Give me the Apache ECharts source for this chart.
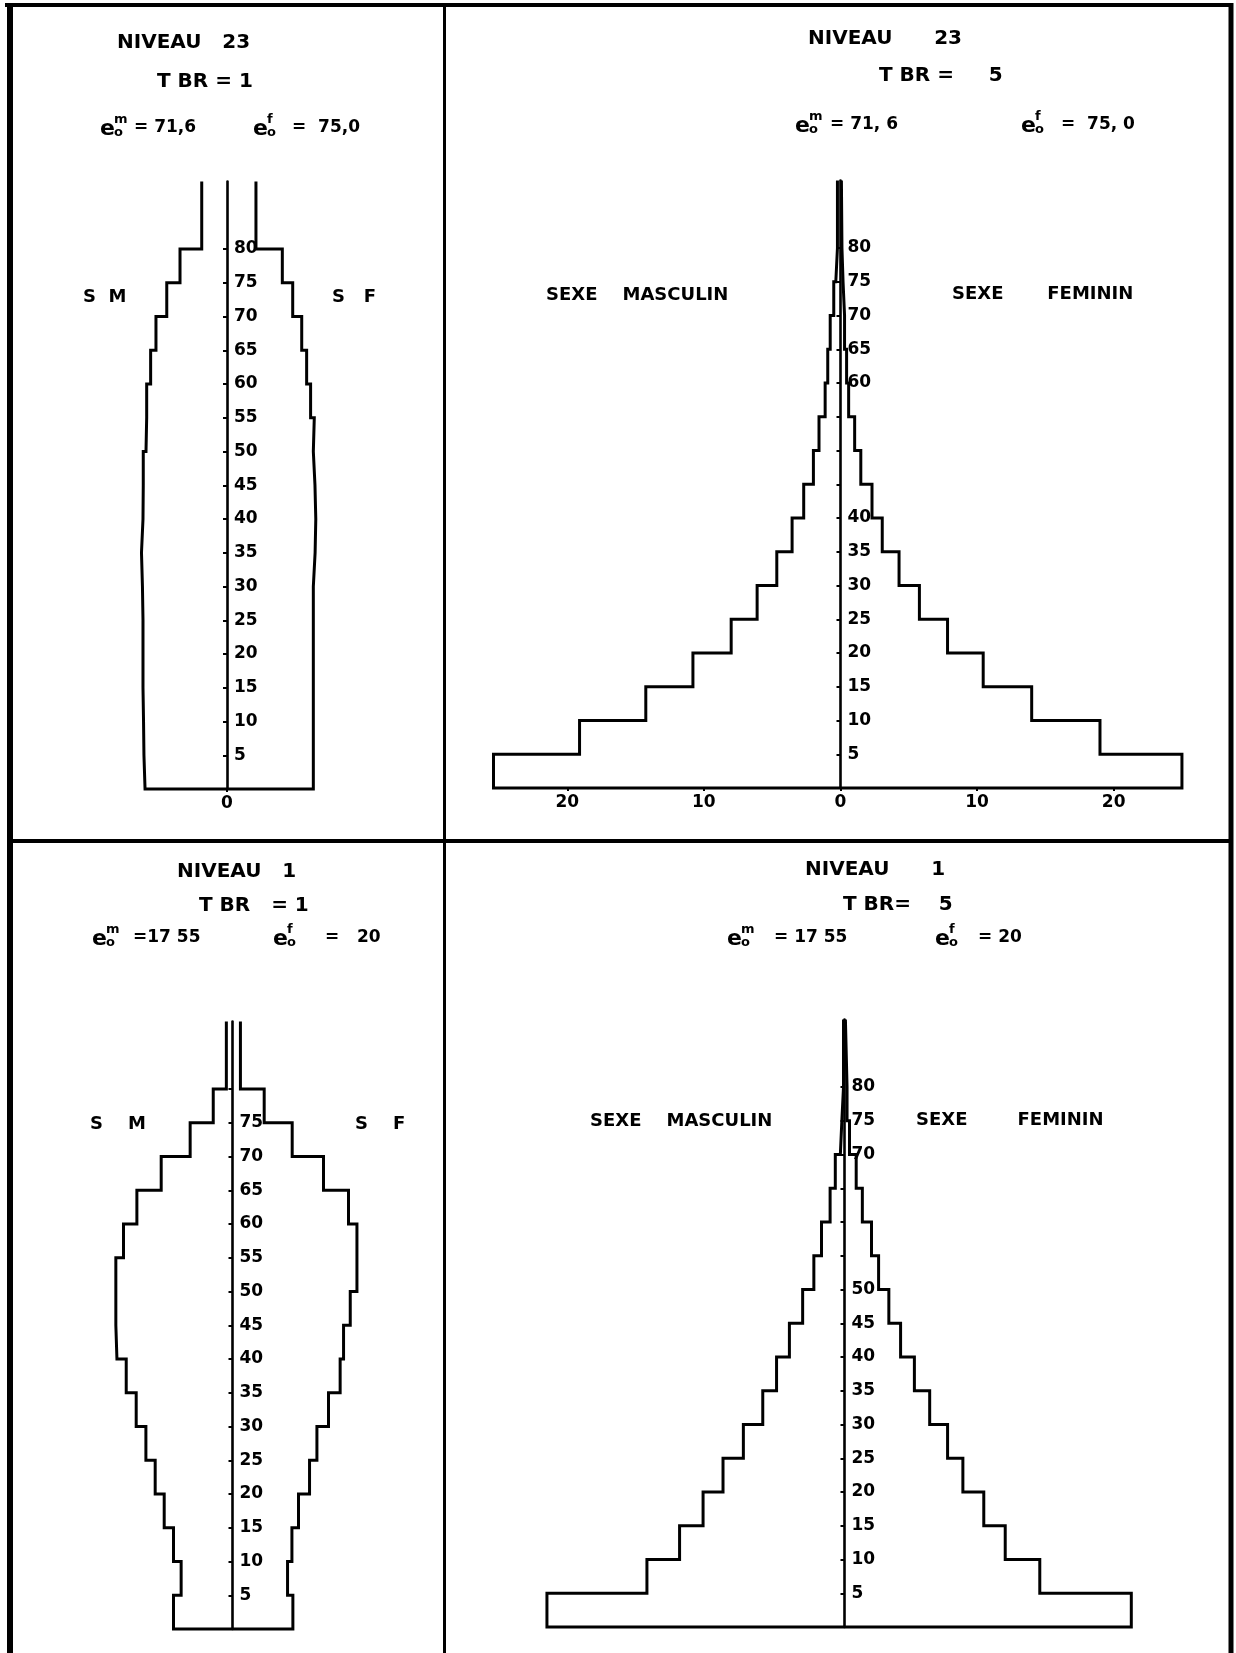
<!DOCTYPE html>
<html>
<head>
<meta charset="utf-8">
<script src="https://cdn.jsdelivr.net/npm/echarts@6/dist/echarts.min.js"></script>
<style>
html,body{margin:0;padding:0;background:#fff;}
#c{width:1236px;height:1653px;}
</style>
</head>
<body>
<div id="c"></div>
<script>
// ---- DATA ----
const ageStarts = [0,5,10,15,20,25,30,35,40,45,50,55,60,65,70,75,80];
const openAgeEnd = 90;

// Niveau 23, TBR = 1 (percent per 5-year group)
const tlMale   = [6.00,6.08,6.11,6.15,6.15,6.15,6.19,6.26,6.15,6.13,5.93,5.88,5.59,5.20,4.41,3.44,1.85];
const tlFemale = [6.32,6.32,6.32,6.32,6.32,6.32,6.45,6.50,6.44,6.32,6.39,6.12,5.83,5.47,4.81,4.05,2.12];
// Niveau 23, TBR = 5
const trMale   = [25.4,19.1,14.25,10.8,8.0,6.1,4.66,3.54,2.69,1.98,1.57,1.12,0.93,0.75,0.49,0.34,0.22];
const trFemale = [25.0,19.0,14.0,10.45,7.84,5.78,4.29,3.06,2.31,1.49,1.04,0.60,0.45,0.30,0.19,0.11,0.07];
// Niveau 1, TBR = 1
const blMale   = [4.32,3.76,4.32,5.00,5.66,6.34,7.05,7.78,8.46,8.54,8.54,7.98,7.00,5.22,3.10,1.41,0.45];
const blFemale = [4.42,4.03,4.35,4.83,5.64,6.18,7.03,7.88,8.13,8.62,9.11,9.11,8.49,6.66,4.37,2.32,0.58];
// Niveau 1, TBR = 5
const brMale   = [21.78,14.46,12.07,10.35,8.89,7.40,5.98,4.97,4.03,3.06,2.24,1.68,1.05,0.67,0.30,0.19,0.07];
const brFemale = [21.0,14.3,11.77,10.2,8.67,7.55,6.24,5.12,4.11,3.25,2.50,1.98,1.31,0.86,0.37,0.19,0.07];

// tick labels
const ageTicks    = [5,10,15,20,25,30,35,40,45,50,55,60,65,70,75,80];
const tlAgeLabels = [5,10,15,20,25,30,35,40,45,50,55,60,65,70,75,80];
const trAgeLabels = [5,10,15,20,25,30,35,40,60,65,70,75,80];
const blAgeLabels = [5,10,15,20,25,30,35,40,45,50,55,60,65,70,75];
const brAgeLabels = [5,10,15,20,25,30,35,40,45,50,70,75,80];
const tlXLabels = [0];
const trXLabels = [-20,-10,0,10,20];
const blXLabels = [];
const brXLabels = [];

// ---- BUILD ----
function groupEnd(i){ return i + 1 < ageStarts.length ? ageStarts[i+1] : openAgeEnd; }
function outline(male, female){
  const pts = [];
  for (let i = male.length - 1; i >= 0; i--) {
    pts.push([-male[i], groupEnd(i)], [-male[i], ageStarts[i]]);
  }
  for (let i = 0; i < female.length; i++) {
    pts.push([female[i], ageStarts[i]], [female[i], groupEnd(i)]);
  }
  return pts;
}

const FONT = '"DejaVu Sans", "Noto Sans", sans-serif';
const panels = [
  {grid:{left:90.4, top:181.5, width:273.2, height:607.5}, axisX:227, min:-10, max:10, male:tlMale, female:tlFemale, ages:tlAgeLabels, xs:tlXLabels},
  {grid:{left:485.3, top:180.5, width:710.3, height:607.5}, axisX:840.5, min:-26, max:26, male:trMale, female:trFemale, ages:trAgeLabels, xs:trXLabels},
  {grid:{left:95.9, top:1021.5, width:273.2, height:607.5}, axisX:232.5, min:-10, max:10, male:blMale, female:blFemale, ages:blAgeLabels, xs:blXLabels},
  {grid:{left:489.3, top:1019.5, width:710.3, height:607.5}, axisX:844.5, min:-26, max:26, male:brMale, female:brFemale, ages:brAgeLabels, xs:brXLabels}
];

const grids = [], xAxes = [], yAxes = [], series = [];
panels.forEach((p, i) => {
  const g = grids.length;
  // main plotting grid
  grids.push(Object.assign({containLabel:false}, p.grid));
  xAxes.push({
    gridIndex:g, type:'value', min:p.min, max:p.max,
    axisLine:{show:false}, splitLine:{show:false},
    axisTick:{show:p.xs.length > 0, customValues:p.xs, length:3, lineStyle:{color:'#000', width:2}},
    axisLabel:{show:p.xs.length > 0, customValues:p.xs, margin:6,
      formatter:v => String(Math.abs(v)), color:'#000', fontSize:17, fontWeight:'bold', fontFamily:FONT}
  });
  yAxes.push({gridIndex:g, type:'value', min:0, max:openAgeEnd, show:false});
  series.push({
    type:'line', xAxisIndex:g, yAxisIndex:g, data:outline(p.male, p.female),
    symbol:'none', clip:false, silent:true, z:3,
    lineStyle:{color:'#000', width:3, join:'miter'}
  });
  // age-axis grid whose left edge sits on the zero line
  const a = grids.length;
  grids.push({containLabel:false, left:p.axisX, top:p.grid.top, width:60, height:p.grid.height});
  xAxes.push({gridIndex:a, type:'value', min:0, max:1, show:false});
  yAxes.push({
    gridIndex:a, type:'value', min:0, max:openAgeEnd, position:'left',
    axisLine:{show:true, onZero:false, lineStyle:{color:'#000', width:2.6}},
    axisTick:{show:true, customValues:ageTicks, length:4, lineStyle:{color:'#000', width:2}},
    axisLabel:{show:true, inside:true, customValues:p.ages, margin:7,
      color:'#000', fontSize:17, fontWeight:'bold', fontFamily:FONT},
    splitLine:{show:false}
  });
});

function T(x, y, text, size){
  return {type:'text', x:x, y:y, silent:true, z:10,
    style:{text:text, font:'bold ' + size + 'px ' + FONT, fill:'#000',
      textAlign:'left', textVerticalAlign:'middle', verticalAlign:'middle'}};
}
function eSym(x, y, sup){
  return [T(x, y + 1, 'e', 22), T(x + 14, y - 8, sup, 13), T(x + 14, y + 5, 'o', 13)];
}
function L(x1, y1, x2, y2, w){
  return {type:'line', silent:true, z:10, shape:{x1:x1, y1:y1, x2:x2, y2:y2}, style:{stroke:'#000', lineWidth:w}};
}

const graphics = [
  // frame
  L(5, 5, 1233, 5, 4),
  L(10, 3, 10, 1653, 6),
  L(1231, 3, 1231, 1653, 5),
  L(444.5, 5, 444.5, 1653, 3),
  L(10, 841, 1231, 841, 4),
  // top-left
  T(117, 43, 'NIVEAU   23', 20),
  T(157, 82, 'T BR = 1', 20),
  ...eSym(100, 128, 'm'), T(134, 128, '= 71,6', 17),
  ...eSym(253, 128, 'f'), T(292, 128, '=  75,0', 17),
  T(83, 297, 'S  M', 18),
  T(332, 297, 'S   F', 18),
  // top-right
  T(808, 39, 'NIVEAU      23', 20),
  T(879, 76, 'T BR =     5', 20),
  ...eSym(795, 125, 'm'), T(830, 125, '= 71, 6', 17),
  ...eSym(1021, 125, 'f'), T(1061, 125, '=  75, 0', 17),
  T(546, 295, 'SEXE    MASCULIN', 18),
  T(952, 294, 'SEXE       FEMININ', 18),
  // bottom-left
  T(177, 872, 'NIVEAU   1', 20),
  T(199, 906, 'T BR   = 1', 20),
  ...eSym(92, 938, 'm'), T(133, 938, '=17 55', 17),
  ...eSym(273, 938, 'f'), T(325, 938, '=   20', 17),
  T(90, 1124, 'S    M', 18),
  T(355, 1124, 'S    F', 18),
  // bottom-right
  T(805, 870, 'NIVEAU      1', 20),
  T(843, 905, 'T BR=    5', 20),
  ...eSym(727, 938, 'm'), T(774, 938, '= 17 55', 17),
  ...eSym(935, 938, 'f'), T(978, 938, '= 20', 17),
  T(590, 1121, 'SEXE    MASCULIN', 18),
  T(916, 1120, 'SEXE        FEMININ', 18)
];

const chart = echarts.init(document.getElementById('c'), null, {renderer:'canvas'});
chart.setOption({
  animation:false,
  backgroundColor:'#ffffff',
  textStyle:{fontFamily:FONT},
  grid:grids, xAxis:xAxes, yAxis:yAxes, series:series,
  graphic:{elements:graphics}
});
</script>
</body>
</html>
